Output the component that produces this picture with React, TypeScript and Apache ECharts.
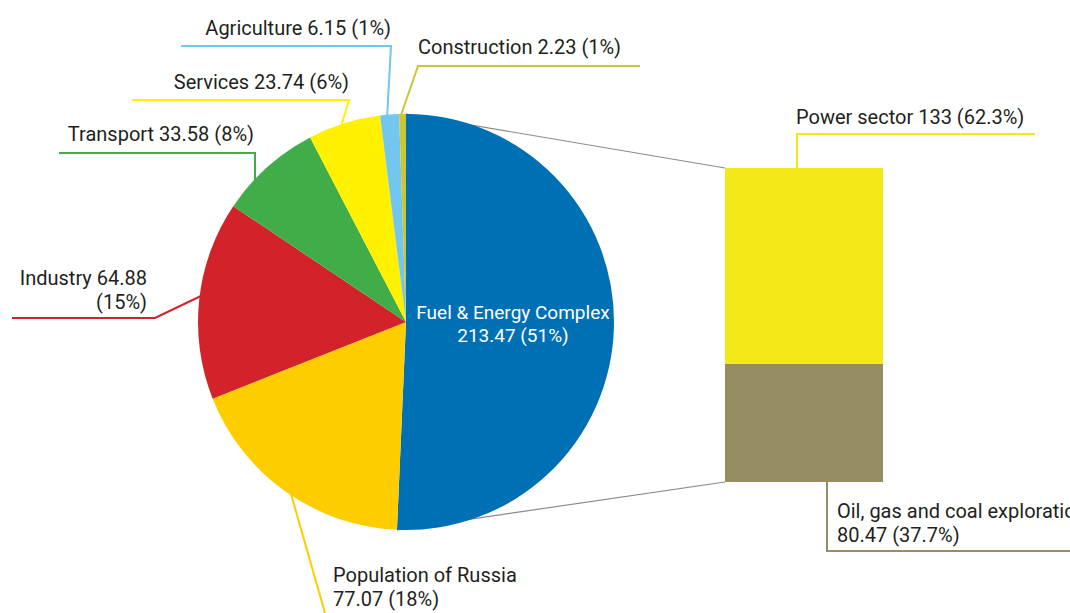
import React, { useEffect, useRef } from "react";
import * as echarts from "echarts";

// ---- data ----
const sectors = [
  "Fuel & Energy Complex",
  "Population of Russia",
  "Industry",
  "Transport",
  "Services",
  "Agriculture",
  "Construction",
];
const sectorValues = [213.47, 77.07, 64.88, 33.58, 23.74, 6.15, 2.23];
const sectorColors = ["#0070b4", "#fdcd00", "#d2232a", "#41ad49", "#fff100", "#73c6ed", "#cbc634"];

const fuelParts = ["Power sector", "Oil, gas and coal exploration"];
const fuelPartValues = [133, 80.47];
const fuelPartColors = ["#f4e918", "#978d63"];

// ---- layout (positions only) ----
const W = 1070;
const H = 613;
const CX = 406;
const CY = 322;
const R = 208;
const BAR = { left: 725, top: 168, width: 158, height: 314 };
const FONT = "Roboto, 'Noto Sans', sans-serif";

// label anchors & leader lines for pie slices (index matches sectors)
const pieLabelLayout: any[] = [
  null,
  { x: 333, y: 587, align: "left", pts: [[291, 494], [327, 620]], sep1: "\n", sep2: " " },
  { x: 147, y: 290, align: "right", pts: [[203, 295], [155, 318], [12, 318]], sep1: " ", sep2: "\n" },
  { x: 254, y: 134, align: "right", pts: [[255, 184], [255, 153], [59, 153]], sep1: " ", sep2: " " },
  { x: 349, y: 82, align: "right", pts: [[340, 130], [349, 100], [132, 100]], sep1: " ", sep2: " " },
  { x: 391, y: 28, align: "right", pts: [[387, 118], [391, 46], [181, 46]], sep1: " ", sep2: " " },
  { x: 418, y: 47, align: "left", pts: [[400, 118], [418, 66], [640, 66]], sep1: " ", sep2: " " },
];
// bar label anchors & leader lines (index matches fuelParts)
const barLabelLayout: any[] = [
  { x: 796, y: 117, align: "left", pts: [[797, 168], [797, 134], [1035, 134]], sep: " " },
  { x: 837, y: 523, align: "left", pts: [[827, 482], [827, 551], [1080, 551]], sep: "\n" },
];

export default function App() {
  const ref = useRef<HTMLDivElement>(null);
  useEffect(() => {
    if (!ref.current) return;
    const chart = echarts.init(ref.current, null, { renderer: "svg" });
    const total = sectorValues.reduce((a, b) => a + b, 0);
    const fuelTotal = fuelPartValues.reduce((a, b) => a + b, 0);

    const fuelAngle = (sectorValues[0] / total) * 2 * Math.PI;
    const topPt = [CX, CY - R];
    const botPt = [CX + R * Math.sin(fuelAngle), CY - R * Math.cos(fuelAngle)];

    const pieData = sectors.map((name, i) => {
      const item: any = {
        name,
        value: sectorValues[i],
        itemStyle: { color: sectorColors[i] },
      };
      if (i === 0) {
        item.label = {
          position: "inner",
          color: "#ffffff",
          fontSize: 19,
          lineHeight: 23,
          align: "center",
        };
        item.labelLine = { show: false };
      }
      return item;
    });

    // bottom of stack first: Oil, then Power
    const stackOrder = [1, 0];

    const option: any = {
      animation: false,
      backgroundColor: "#ffffff",
      textStyle: { fontFamily: FONT },
      graphic: [
        {
          type: "line",
          z: 0,
          shape: { x1: topPt[0], y1: topPt[1], x2: BAR.left, y2: BAR.top },
          style: { stroke: "#8a8a8a", lineWidth: 1.2 },
        },
        {
          type: "line",
          z: 0,
          shape: { x1: botPt[0], y1: botPt[1], x2: BAR.left, y2: BAR.top + BAR.height },
          style: { stroke: "#8a8a8a", lineWidth: 1.2 },
        },
        ...barLabelLayout.map((l, i) => ({
          type: "polyline",
          z: 0,
          shape: { points: l.pts },
          style: { stroke: fuelPartColors[i], lineWidth: 2, fill: null },
        })),
      ],
      grid: {
        left: BAR.left,
        top: BAR.top,
        width: BAR.width,
        height: BAR.height,
        containLabel: false,
      },
      xAxis: { type: "category", data: ["Fuel"], show: false },
      yAxis: { type: "value", min: 0, max: fuelTotal, show: false },
      series: [
        {
          type: "pie",
          center: [CX, CY],
          radius: R,
          startAngle: 90,
          clockwise: true,
          avoidLabelOverlap: false,
          data: pieData,
          itemStyle: { borderWidth: 0 },
          emphasis: { disabled: true },
          label: {
            show: true,
            position: "outside",
            fontFamily: FONT,
            fontSize: 20,
            lineHeight: 24,
            color: "#231f20",
            formatter: (p: any) => {
              const i = p.dataIndex;
              const pct = Math.round((p.value / total) * 100);
              const l = pieLabelLayout[i];
              const s1 = l ? l.sep1 : "\n";
              const s2 = l ? l.sep2 : " ";
              return `${p.name}${s1}${p.value}${s2}(${pct}%)`;
            },
          },
          labelLine: { show: true, lineStyle: { width: 2 } },
          labelLayout: (params: any) => {
            const l = pieLabelLayout[params.dataIndex];
            if (!l) return {};
            return {
              x: l.x,
              y: l.y,
              align: l.align,
              verticalAlign: "middle",
              labelLinePoints: l.pts,
            };
          },
        },
        ...stackOrder.map((i) => ({
          type: "bar",
          name: fuelParts[i],
          stack: "fuel",
          barWidth: "100%",
          data: [fuelPartValues[i]],
          itemStyle: { color: fuelPartColors[i] },
          emphasis: { disabled: true },
          label: {
            show: true,
            position: "inside",
            fontFamily: FONT,
            fontSize: 20,
            lineHeight: 24,
            color: "#231f20",
            formatter: (p: any) => {
              const pct = ((p.value / fuelTotal) * 100).toFixed(1);
              return `${fuelParts[i]}${barLabelLayout[i].sep}${p.value} (${pct}%)`;
            },
          },
          labelLine: { show: false },
          labelLayout: () => {
            const l = barLabelLayout[i];
            return {
              x: l.x,
              y: l.y,
              align: l.align,
              verticalAlign: "middle",
            };
          },
        })),
      ],
    };
    chart.setOption(option);
    return () => chart.dispose();
  }, []);
  return (
    <div
      ref={ref}
      style={{ position: "fixed", left: 0, top: 0, width: W, height: H }}
    />
  );
}
